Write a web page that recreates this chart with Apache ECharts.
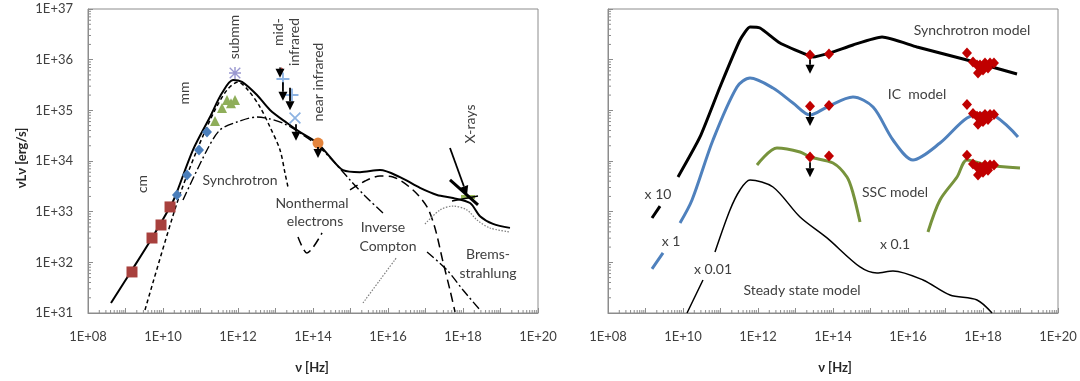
<!DOCTYPE html>
<html><head><meta charset="utf-8">
<script src="https://cdn.jsdelivr.net/npm/echarts@6/dist/echarts.min.js"></script>
<style>html,body{margin:0;padding:0;background:#fff}#c{width:1080px;height:381px}</style>
</head><body><div id="c"></div>
<script>
// ---------- tick labels ----------
const xTickLabels = ['1E+08','1E+10','1E+12','1E+14','1E+16','1E+18','1E+20'];
const yTickLabels = ['1E+31','1E+32','1E+33','1E+34','1E+35','1E+36','1E+37'];
const minorMultipliers = [2,3,4,5,6,7,8,9];

// ---------- LEFT PANEL (nu [Hz], nuLnu [erg/s]) ----------
const totalModel = [[4.1e8,1.58e31],[1.49e9,7.06e31],[5.09e9,3.02e32],[1.54e10,1.23e33],[2.09e10,1.95e33],[6.31e10,1.66e34],[1.79e11,7.41e34],[3.74e11,2.19e35],[7.36e11,3.98e35],[1.28e12,3.63e35],[3.21e12,2.0e35],[7.13e12,1.02e35],[2.03e13,5.62e34],[4.5e13,3.72e34],[1.28e14,2.29e34],[2.84e14,1.2e34],[6.31e14,6.61e33],[1.79e15,6.03e33],[6.12e15,6.61e33],[2.09e16,4.79e33],[7.13e16,2.95e33],[2.03e17,2.14e33],[5.41e17,1.86e33],[1.54e18,1.48e33],[2.84e18,8.13e32],[6.31e18,5.75e32],[1.79e19,4.79e32]];
const synchrotron = [[3.31e9,1.15e31],[2.36e10,1.48e33],[8.07e10,1.65e34],[2.44e11,1.02e35],[5.09e11,2.51e35],[1.0e12,3.63e35],[1.85e12,2.51e35],[3.86e12,1.16e35],[7.13e12,4.69e34],[1.32e13,1.65e34],[1.79e13,5.8e33],[2.15e13,3.07e33]];
const inverseCompton = [[3.98e13,3.16e32],[6.92e13,1.53e32],[1.74e14,3.8e32],null,[9.7e14,2.68e33],[2.44e15,4.03e33],[6.12e15,5.06e33],[1.36e16,4.83e33],[4.64e16,2.68e33],[1.1e17,1.24e33],[1.79e17,4.76e32],[2.93e17,1.02e32],[4.5e17,2.84e31],[6.12e17,1.05e31]];
const nonthermal = [[3.41e10,1.7e33],[1.49e11,1.65e34],[3.31e11,4.09e34],[9.4e11,5.89e34],[3.21e12,7.39e34],[7.13e12,6.75e34],[1.79e13,5.37e34],[4.5e13,3.57e34],[1.28e14,2.07e34],[3.86e14,9.12e33],[9.7e14,4.22e33],[2.44e15,2.04e33],[7.36e15,9.42e32],null,[1.1e17,1.6e32],[3.74e17,7.06e31],[1.0e18,2.84e31],[2.84e18,1.15e31]];
const bremsstrahlung = [[2.15e15,1.58e31],[6.12e15,4.49e31],[1.74e16,1.28e32],null,[9.7e16,5.71e32],[2.44e17,1.08e33],[5.41e17,1.29e33],[1.28e18,1.08e33],[2.36e18,6.85e32],[5.25e18,4.76e32],[1.79e19,3.98e32]];
const cmData = [[1.49e9,6.46e31],[5.09e9,3.02e32],[8.85e9,5.46e32],[1.54e10,1.24e33]];
const mmData = [[2.36e10,2.13e33],[4.37e10,5.3e33],[9.12e10,1.65e34],[1.49e11,3.74e34]];
const submmData = [[2.44e11,6.17e34],[3.74e11,1.11e35],[5.09e11,1.6e35],[6.5e11,1.38e35],[8.32e11,1.6e35]];
const submmStar = [[8.32e11,5.46e35]];
const midIrPlus = [[1.58e13,4.15e35],[2.75e13,2.01e35]];
const midIrCross = [[3.31e13,7.06e34]];
const midIrRed = [[1.45e13,6.3e35]];
const nearIrDot = [[1.36e14,2.26e34]];
const xrayPoint = [[1.36e18,1.95e33]];
// upper limits: [nu, L_top, nu, L_bottom]
const leftLimits = [[1.32e13,7.0e35,1.32e13,4.4e35],[1.58e13,3.6e35,1.58e13,1.55e35],[2.44e13,2.8e35,2.44e13,1.0e35],[3.52e13,5.3e34,3.52e13,2.5e34],[1.36e14,1.9e34,1.36e14,1.15e34]];
const xrayArrow = [[4.5e17,1.81e34,1.28e18,2.14e33]];
const xrayBowThick = [[4.5e17,4.22e33,2.51e18,1.36e33]];
const xrayBowThin = [[5.09e17,1.62e33,2.51e18,2.04e33]];

// ---------- RIGHT PANEL ----------
const synchModel = [[1.49e9,7.5e32],[2.44e9,1.29e33],null,[7.36e9,4.83e33],[2.84e10,2.98e34],[9.7e10,2.89e35],[3.31e11,2.44e36],[6.12e11,4.41e36],[1.13e12,4.22e36],[3.86e12,2.13e36],[2.03e13,1.24e36],[2.93e13,1.13e36],[8.32e13,1.36e36],[3.41e14,1.95e36],[2.03e15,2.8e36],[1.74e16,1.78e36],[3.74e17,9.84e35],[8.07e18,5.21e35]];
const icModel = [[1.49e9,7.4e31],[2.93e9,1.53e32],null,[8.32e9,5.98e32],[1.74e10,1.7e33],[6.31e10,2.6e34],[2.75e11,2.89e35],[6.12e11,4.34e35],[2.51e12,2.76e35],[8.57e12,1.4e35],[2.44e13,8.09e34],[6.92e13,1.16e35],[3.41e14,1.83e35],[1.17e15,1.16e35],[3.98e15,2.6e34],[1.36e16,1.05e34],[7.13e16,2.26e34],[3.74e17,7.06e34],[1.28e18,8.86e34],[8.57e18,2.98e34]];
const sscModel = [[9.4e11,8.34e33],[3.21e12,1.81e34],[1.32e13,1.51e34],[2.44e13,1.2e34],[1.0e14,9.12e33],[2.36e14,4.83e33],[3.41e14,2.34e33],[5.25e14,6.25e32],null,[3.41e16,3.97e32],[7.13e16,1.7e33],[2.03e17,4.83e33],[3.74e17,1.05e34],[1.28e18,8.34e33],[9.7e18,7.28e33]];
const steadyModel = [[1.28e10,1.0e31],[3.41e10,4.49e31],null,[7.13e10,1.6e32],[1.79e11,1.08e33],[3.31e11,2.68e33],[6.12e11,4.22e33],[2.51e12,3.07e33],[1.32e13,7.85e32],[6.92e13,3.03e32],[5.25e14,8.1e31],[1.49e15,6.17e31],[3.98e15,6.76e31],[2.51e16,4.49e31],[1.32e17,2.27e31],[6.92e17,1.81e31],[1.74e18,1.0e31]];
const obsSynch = [[2.44e13,1.24e36],[7.81e13,1.29e36],[3.74e17,1.36e36],[5.41e17,9.0e35],[6.92e17,7.85e35],[8.32e17,7.85e35],[1.13e18,8.6e35],[1.54e18,8.6e35],[1.96e18,8.6e35],[7.36e17,5.46e35],[1.0e18,6.25e35],[1.36e18,6.85e35]];
const obsIC = [[2.44e13,1.2e35],[7.81e13,1.25e35],[3.74e17,1.3e35],[5.41e17,8.7e34],[6.92e17,7.6e34],[8.32e17,7.6e34],[1.13e18,8.3e34],[1.54e18,8.3e34],[1.96e18,8.3e34],[7.36e17,5.3e34],[1.0e18,6.0e34],[1.36e18,6.6e34]];
const obsSSC = [[2.44e13,1.2e34],[7.81e13,1.25e34],[3.74e17,1.3e34],[5.41e17,8.7e33],[6.92e17,7.6e33],[8.32e17,7.6e33],[1.13e18,8.3e33],[1.54e18,8.3e33],[1.96e18,8.3e33],[7.36e17,5.3e33],[1.0e18,6.0e33],[1.36e18,6.6e33]];
const rightLimits = [[2.44e13,1.0e36,2.44e13,5.3e35],[2.44e13,9.3e34,2.44e13,4.9e34],[2.44e13,9.5e33,2.44e13,4.8e33]];

// ---------- axis minor tick values (log axis: 2..9 x each decade) ----------
const X_MIN = 1e8, X_MAX = 1e20, Y_MIN = 1e31, Y_MAX = 1e37;
const xMinorTicks = [], yMinorTicks = [];
for (let e = 8; e < 20; e++) minorMultipliers.forEach(m => xMinorTicks.push([m * Math.pow(10, e), Y_MIN]));
for (let e = 31; e < 37; e++) minorMultipliers.forEach(m => yMinorTicks.push([X_MIN, m * Math.pow(10, e)]));

// ---------- chart ----------
const FONT = 'Lato';
const TXT = '#404040';
const AX = '#8c8c8c';
function expOf(v){ return Math.round(Math.log10(v)); }
function xLabel(v){ const e = expOf(v); const s = '1E+' + (e<10?'0':'') + e; return xTickLabels.indexOf(s) >= 0 ? s : ''; }
function yLabel(v){ const s = '1E+' + expOf(v); return yTickLabels.indexOf(s) >= 0 ? s : ''; }

function arrowItem(params, api){
  const p1 = api.coord([api.value(0), api.value(1)]);
  const p2 = api.coord([api.value(2), api.value(3)]);
  const dx = p2[0]-p1[0], dy = p2[1]-p1[1];
  const len = Math.hypot(dx, dy) || 1;
  const ux = dx/len, uy = dy/len;
  const hl = Math.min(9, len), hw = 4.5;
  const bx = p2[0]-ux*hl, by = p2[1]-uy*hl;
  return {type:'group', children:[
    {type:'line', shape:{x1:p1[0], y1:p1[1], x2:bx, y2:by}, style:{stroke:'#000', lineWidth:1.8}},
    {type:'polygon', shape:{points:[[p2[0],p2[1]],[bx-uy*hw, by+ux*hw],[bx+uy*hw, by-ux*hw]]}, style:{fill:'#000'}}
  ]};
}
function segItem(w){
  return function(params, api){
    const p1 = api.coord([api.value(0), api.value(1)]);
    const p2 = api.coord([api.value(2), api.value(3)]);
    return {type:'line', shape:{x1:p1[0], y1:p1[1], x2:p2[0], y2:p2[1]}, style:{stroke:'#000', lineWidth:w}};
  };
}
function xMinorItem(params, api){
  const p = api.coord([api.value(0), api.value(1)]);
  return {type:'line', shape:{x1:p[0], y1:p[1], x2:p[0], y2:p[1]-3}, style:{stroke:AX, lineWidth:1}};
}
function yMinorItem(params, api){
  const p = api.coord([api.value(0), api.value(1)]);
  return {type:'line', shape:{x1:p[0], y1:p[1], x2:p[0]+3, y2:p[1]}, style:{stroke:AX, lineWidth:1}};
}
function tickSeries(idx){
  return [
    {type:'custom', name:'xminor'+idx, xAxisIndex:idx, yAxisIndex:idx, renderItem:xMinorItem, data:xMinorTicks, encode:{x:0, y:1}, silent:true, z:1},
    {type:'custom', name:'yminor'+idx, xAxisIndex:idx, yAxisIndex:idx, renderItem:yMinorItem, data:yMinorTicks, encode:{x:0, y:1}, silent:true, z:1}
  ];
}

function xAxisDef(idx){
  return {type:'log', logBase:10, gridIndex:idx, min:X_MIN, max:X_MAX, interval:1,
    axisLine:{lineStyle:{color:AX}}, axisTick:{inside:true, length:5, lineStyle:{color:AX}},
    minorTick:{show:false}, splitLine:{show:false},
    axisLabel:{formatter:xLabel, color:TXT, fontFamily:FONT, fontSize:13, margin:17, showMinLabel:true, showMaxLabel:true}};
}
function yAxisDef(idx, labels){
  return {type:'log', logBase:10, gridIndex:idx, min:Y_MIN, max:Y_MAX, interval:1,
    axisLine:{lineStyle:{color:AX}}, axisTick:{inside:true, length:5, lineStyle:{color:AX}},
    minorTick:{show:false}, splitLine:{show:false},
    axisLabel:{show:labels, formatter:yLabel, color:TXT, fontFamily:FONT, fontSize:13, margin:15}};
}
function line(name, data, xi, style, w, sm){
  return {name, type:'line', xAxisIndex:xi, yAxisIndex:xi, data, showSymbol:false, symbol:'none',
    smooth:(sm == null ? 0.3 : sm), connectNulls:false, lineStyle:Object.assign({color:'#000', width:w||1.5}, style), z:2};
}
function scatter(name, data, xi, symbol, size, color){
  return {name, type:'scatter', xAxisIndex:xi, yAxisIndex:xi, data, symbol, symbolSize:size,
    itemStyle:{color, opacity:1}, z:4};
}
const plusPath = 'path://M4.3,0H5.7V4.3H10V5.7H5.7V10H4.3V5.7H0V4.3H4.3Z';
const crossPath = 'path://M0,1L1,0L5,4L9,0L10,1L6,5L10,9L9,10L5,6L1,10L0,9L4,5Z';
const starPath = 'path://M4.4,0H5.6V4.4H10V5.6H5.6V10H4.4V5.6H0V4.4H4.4ZM1,0.2L5,4.2L9,0.2L9.8,1L5.8,5L9.8,9L9,9.8L5,5.8L1,9.8L0.2,9L4.2,5L0.2,1Z';

function txt(x, y, s, opt){
  return Object.assign({type:'text', x, y, z:10, style:Object.assign({text:s, fill:TXT, font:'14px '+FONT, textAlign:'center', textVerticalAlign:'middle'}, (opt&&opt.style)||{})}, opt&&opt.rot ? {rotation:Math.PI/2} : {});
}
const bold = {style:{font:'bold 13px '+FONT, fill:'#262626'}};

const option = {
  animation:false,
  backgroundColor:'#fff',
  grid:[{left:88, top:9, width:450, height:304, show:true, borderColor:AX, borderWidth:1},
        {left:608, top:9, width:450, height:304, show:true, borderColor:AX, borderWidth:1}],
  xAxis:[xAxisDef(0), xAxisDef(1)],
  yAxis:[yAxisDef(0, true), yAxisDef(1, false)],
  series:[].concat(tickSeries(0), tickSeries(1), [
    line('Total', totalModel, 0, {}, 2),
    line('Synchrotron', synchrotron, 0, {type:[4,3]}, 1.5),
    line('Inverse Compton', inverseCompton, 0, {type:[9,5]}, 1.5),
    line('Nonthermal electrons', nonthermal, 0, {type:[9,3,2,3]}, 1.4),
    line('Bremsstrahlung', bremsstrahlung, 0, {type:[1.5,1.5], color:'#7f7f7f'}, 1.2),
    scatter('cm', cmData, 0, 'rect', 11, '#a8403d'),
    scatter('mm', mmData, 0, 'diamond', [10,11], '#4a7ebb'),
    scatter('submm', submmData, 0, 'triangle', [10,10], '#8fae5a'),
    scatter('submm star', submmStar, 0, starPath, 12, '#9a98d0'),
    scatter('mid-IR plus', midIrPlus, 0, plusPath, 13, '#8db3e2'),
    scatter('mid-IR cross', midIrCross, 0, crossPath, 12, '#8db3e2'),
    scatter('mid-IR red', midIrRed, 0, 'diamond', 5, '#c0504d'),
    scatter('near-IR', nearIrDot, 0, 'circle', 11, '#e4843c'),
    {type:'custom', name:'limits', xAxisIndex:0, yAxisIndex:0, renderItem:arrowItem, data:leftLimits, encode:{x:[0,2], y:[1,3]}, z:5},
    {type:'custom', name:'xray arrow', xAxisIndex:0, yAxisIndex:0, renderItem:arrowItem, data:xrayArrow, encode:{x:[0,2], y:[1,3]}, z:5},
    {type:'custom', name:'bow thick', xAxisIndex:0, yAxisIndex:0, renderItem:segItem(3), data:xrayBowThick, encode:{x:[0,2], y:[1,3]}, z:5},
    {type:'custom', name:'bow thin', xAxisIndex:0, yAxisIndex:0, renderItem:segItem(1.5), data:xrayBowThin, encode:{x:[0,2], y:[1,3]}, z:5},
    scatter('xray', xrayPoint, 0, 'rect', [14,4], '#9bbb59'),

    line('Synchrotron model', synchModel, 1, {}, 3, 0.18),
    line('IC model', icModel, 1, {color:'#4f81bd'}, 3),
    line('SSC model', sscModel, 1, {color:'#77933c'}, 3),
    line('Steady state model', steadyModel, 1, {}, 1.5),
    scatter('obs synch', obsSynch, 1, 'diamond', [10,11], '#c00000'),
    scatter('obs ic', obsIC, 1, 'diamond', [10,11], '#c00000'),
    scatter('obs ssc', obsSSC, 1, 'diamond', [10,11], '#c00000'),
    {type:'custom', name:'rlimits', xAxisIndex:1, yAxisIndex:1, renderItem:arrowItem, data:rightLimits, encode:{x:[0,2], y:[1,3]}, z:5}
  ]),
  graphic:[
    txt(22, 158, 'νLν [erg/s]', {rot:true, style:bold.style}),
    txt(312, 368, 'ν [Hz]', bold),
    txt(835, 368, 'ν [Hz]', bold),
    txt(234, 37, 'submm', {rot:true}),
    txt(184, 93, 'mm', {rot:true}),
    txt(142, 184, 'cm', {rot:true}),
    txt(278, 32, 'mid-', {rot:true}),
    txt(294, 42, 'infrared', {rot:true}),
    txt(318, 82, 'near infrared', {rot:true}),
    txt(470, 124, 'X-rays', {rot:true}),
    txt(240, 180, 'Synchrotron'),
    txt(312, 203, 'Nonthermal'),
    txt(315, 221, 'electrons'),
    txt(383, 227, 'Inverse'),
    txt(388, 246, 'Compton'),
    txt(488, 254, 'Brems-'),
    txt(488, 273, 'strahlung'),
    txt(972, 30, 'Synchrotron model'),
    txt(917, 94, 'IC  model'),
    txt(895, 192, 'SSC model'),
    txt(895, 244, 'x 0.1'),
    txt(658, 194, 'x 10'),
    txt(671, 241, 'x 1'),
    txt(713, 269, 'x 0.01'),
    txt(802, 290, 'Steady state model')
  ]
};
const chart = echarts.init(document.getElementById('c'), null, {renderer:'canvas'});
chart.setOption(option);
</script></body></html>
